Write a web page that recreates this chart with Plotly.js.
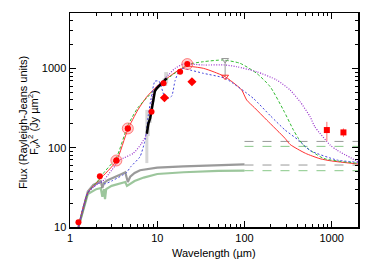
<!DOCTYPE html>
<html><head><meta charset="utf-8">
<script src="https://cdn.plot.ly/plotly-3.0.1.min.js"></script>
<style>html,body{margin:0;padding:0;background:#fff}#c{width:374px;height:262px}</style>
</head><body><div id="c"></div>
<script>
// ---- data (wavelength in micron, flux in Jy um^2) ----
const redWave  = [1.25,1.6,2.2,3.4,4.6,6,7.6,10.3,14,18.3,22,33.8,45,60,80,93,106,130,180,292,333,500,736,1000,2000];
const redFlux  = [10,27,40,68,170,300,440,617,800,980,1060,1003,900,786,620,534,399,320,223,131,110,85,72.6,68,62.3];
const greenWave = [1.25,1.6,2,2.5,3.4,4.6,6,7.5,10,15,22.7,33.8,57,89,138,197,279,364,415,473,803,2000];
const greenFlux = [10,27,36,50,75,190,320,420,580,830,1120,1216,1276,1160,867,588,299,167,131,108,73.5,63.6];
const blueWave = [1.25,1.6,2,2.3,2.5,3,4,4.4,5,6.35,7.2,7.45,7.9,8.5,9.4,10.5,11.5,12.3,13.5,14.7,16,17.5,19.1,23.8,33.8,60,126,200,292,415,565,1143,2000];
const blueFlux = [10,27,34,37,35,38,45,48,58,77,120,150,258,420,690,690,520,420,420,450,700,900,1000,955,867,750,420,250,167,125,92,70,65.5];
const purpWave = [1.25,1.6,2,2.3,2.5,3,3.75,5.3,6.5,7.6,8.3,9,10,11,13.4,16,20,33.8,60,81.5,138,234,333,434,565,640,959,1143,2000];
const purpFlux = [10,27,34,37,40,52,70,85,110,152,250,505,600,650,826,1000,1135,1104,1104,1050,908,714,534,380,246,184,108,93.5,66.6];
const photGrayWave = [1.25,1.4,1.6,1.85,2.1,2.25,2.35,2.45,2.7,3.2,3.8,4.3,4.45,4.6,4.9,5.5,6.35,8,10,20,50,100];
const photGrayFlux = [10,16,28,34,37,38,31,36,39,42,46,49,40,37,43,48,52,54,56,58,60.5,61.7];
const photGreenWave = [1.25,1.4,1.6,2.0,2.25,2.35,2.45,2.52,2.6,3,3.9,4.3,4.5,4.7,5.5,7,10,20,50,100];
const photGreenFlux = [10,16,26,30,31,24,30,22.4,30,33,36,37,33,34,38,42,46.6,49,51,51.3];
const extWave = [100,2000];
const extGrayLow = [60.5,60.5], extGreenLow = [51.3,51.3];
const extGrayHigh = [120,120], extGreenHigh = [104,104];
const specWave = [7.6,7.9,8.3,8.6,9.0,9.4,10,10.5,11,11.5,12,12.5,12.8];
const specFlux = [150,200,235,290,400,520,570,600,630,660,690,720,750];
const specErrUp = [150,80,40,30,25,20,20,25,30,40,60,180,150];
const specErrDn = [86,60,30,20,20,15,15,20,25,30,40,120,100];
const photWave = [1.25,2.2,3.4,4.6,8.6,11.8,18.3];
const photFlux = [11.5,43.6,69,175,285,650,910];
const haloWave = [3.4,4.6,22.1];
const haloFlux = [69,175,1135];
const diaWave = [12.1,25];
const diaFlux = [427,680];
const mmWave = [879,1362];
const mmFlux = [167,156];
const mmErr = [45,19];
const limWave = [60,60];
const limFlux = [786,1276];

const traces = [];
function line(x,y,color,dash,width,extra){return Object.assign({x:x,y:y,mode:'lines',line:{color:color,dash:dash,width:width,shape:'spline',smoothing:0.6},hoverinfo:'skip'},extra||{});}
traces.push(line(extWave,extGrayHigh,'#999999','dash',1));
traces.push(line(extWave,extGreenHigh,'#88c888','dash',1));
traces.push(line(extWave,extGrayLow,'#999999','dash',1));
traces.push(line(extWave,extGreenLow,'#88c888','dash',1));
traces.push(line(photGreenWave,photGreenFlux,'','solid',2,{line:{color:'rgba(90,160,90,0.6)',width:2.2}}));
traces.push(line(photGrayWave,photGrayFlux,'','solid',2,{line:{color:'rgba(100,100,100,0.65)',width:2.2}}));
// spectrum error bars
traces.push({x:specWave,y:specFlux,mode:'markers',marker:{size:1,opacity:0},
  error_y:{type:'data',symmetric:false,array:specErrUp,arrayminus:specErrDn,color:'#d6d6d6',thickness:3,width:0},hoverinfo:'skip'});
traces.push(line(redWave,redFlux,'#ff3030','solid',1));
traces.push(line(greenWave,greenFlux,'#33bb33','dash',1,{line:{color:'#33bb33',dash:'3px,2px',width:1,shape:'spline',smoothing:0.6}}));
traces.push(line(blueWave,blueFlux,'#4444dd','dot',1,{line:{color:'#4444dd',dash:'2px,2px',width:1,shape:'spline',smoothing:0.5}}));
traces.push(line(purpWave,purpFlux,'#9932cc','dot',1,{line:{color:'#9932cc',dash:'1px,1.5px',width:1.2,shape:'spline',smoothing:0.6}}));
traces.push({x:specWave,y:specFlux,mode:'lines',line:{color:'#000',width:2.5},hoverinfo:'skip'});
// upper limit
traces.push({x:limWave,y:limFlux,mode:'lines+markers',line:{color:'#999',width:1},
  marker:{symbol:['triangle-down-open','triangle-down-open'],color:['#ff3030','#999'],size:6},hoverinfo:'skip'});
traces.push({x:haloWave,y:haloFlux,mode:'markers',marker:{size:11,color:'rgba(255,110,110,0.35)',line:{color:'rgba(255,60,60,0.6)',width:1}},hoverinfo:'skip'});
traces.push({x:photWave,y:photFlux,mode:'markers',marker:{size:6,color:'#ff0000'},hoverinfo:'skip'});
traces.push({x:haloWave,y:haloFlux,mode:'markers',marker:{size:6,color:'#ff0000'},hoverinfo:'skip'});
traces.push({x:diaWave,y:diaFlux,mode:'markers',marker:{symbol:'diamond',size:7,color:'#ff0000'},hoverinfo:'skip'});
traces.push({x:mmWave,y:mmFlux,mode:'markers',marker:{symbol:'square',size:6,color:'#ff0000'},
  error_y:{type:'data',array:mmErr,color:'#ff7070',thickness:1,width:0},hoverinfo:'skip'});

const minorX=[], minorY=[];
[1,10,100,1000].forEach(d=>{for(let k=2;k<=9;k++){if(d*k<=2000)minorX.push(d*k);}});
[10,100,1000].forEach(d=>{for(let k=2;k<=9;k++){if(d*k<=5000)minorY.push(d*k);}});

const layout = {
  width:374,height:262,showlegend:false,
  margin:{l:70,r:16,t:13,b:35},
  paper_bgcolor:'#fff',plot_bgcolor:'#fff',
  font:{family:'Liberation Sans, Arial, sans-serif',size:11,color:'#000'},
  xaxis:{type:'log',range:[0,Math.log10(2000)],tickvals:[1,10,100,1000],ticktext:['1','10','100','1000'],
    ticks:'inside',ticklen:6,tickwidth:1,tickcolor:'#000',showline:true,linecolor:'#000',linewidth:1.5,mirror:'ticks',
    showgrid:false,zeroline:false,
    minor:{tickmode:'array',tickvals:minorX,ticks:'inside',ticklen:3,tickcolor:'#000',showgrid:false}},
  yaxis:{type:'log',range:[1,Math.log10(5000)],tickvals:[10,100,1000],ticktext:['10','100','1000'],
    ticks:'inside',ticklen:6,tickwidth:1,tickcolor:'#000',showline:true,linecolor:'#000',linewidth:1.5,mirror:'ticks',
    showgrid:false,zeroline:false,
    minor:{tickmode:'array',tickvals:minorY,ticks:'inside',ticklen:3,tickcolor:'#000',showgrid:false}},
  annotations:[
    {text:'Wavelength (µm)',xref:'paper',yref:'paper',x:0.5,y:-0.122,xanchor:'center',yanchor:'middle',showarrow:false,font:{size:11}},
    {text:'Flux (Rayleigh-Jeans units)',xref:'paper',yref:'paper',x:-0.163,y:0.486,textangle:-90,xanchor:'center',yanchor:'middle',showarrow:false,font:{size:11}},
    {text:'F<sub>ν</sub>λ<sup>2</sup> (Jy µm<sup>2</sup>)',xref:'paper',yref:'paper',x:-0.125,y:0.486,textangle:-90,xanchor:'center',yanchor:'middle',showarrow:false,font:{size:11}}
  ]
};
Plotly.newPlot('c',traces,layout,{staticPlot:true,displayModeBar:false});
</script></body></html>
